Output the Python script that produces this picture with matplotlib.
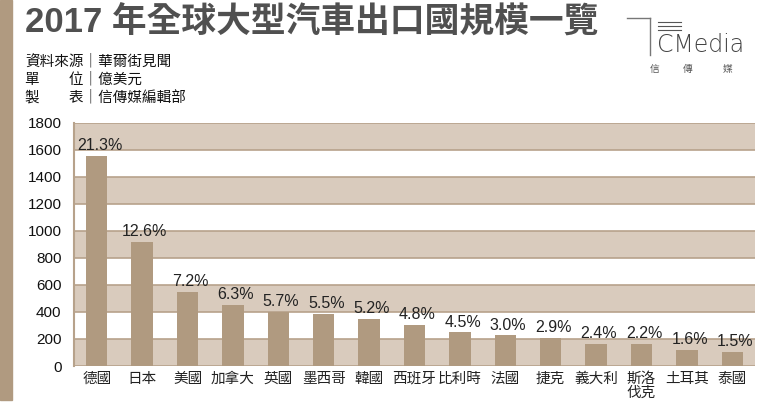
import matplotlib
matplotlib.use("Agg")
import matplotlib.pyplot as plt
from matplotlib.patches import Rectangle

plt.rcParams['font.family'] = ['Liberation Sans', 'Noto Sans CJK TC']

countries = ['德國', '日本', '美國', '加拿大', '英國', '墨西哥', '韓國', '西班牙',
             '比利時', '法國', '捷克', '義大利', '斯洛\n伐克', '土耳其', '泰國']
exports = [1555, 918, 546, 451, 402, 385, 350, 303, 249, 227, 209, 165, 162, 118, 104]
shares = ['21.3%', '12.6%', '7.2%', '6.3%', '5.7%', '5.5%', '5.2%', '4.8%',
          '4.5%', '3.0%', '2.9%', '2.4%', '2.2%', '1.6%', '1.5%']
yticks = [0, 200, 400, 600, 800, 1000, 1200, 1400, 1600, 1800]

BAR = '#b09a80'
BAND = '#d9cbbd'
LINE = '#b7a28b'

W, H = 768, 405
fig = plt.figure(figsize=(W / 100, H / 100), dpi=100)
fig.patch.set_facecolor('white')

# decorative strip on the left
fig.patches.append(Rectangle((0, 5 / H), 12 / W, 1 - 5 / H, transform=fig.transFigure,
                             color=BAR, zorder=0))

ax = fig.add_axes([74 / W, 1 - 366 / H, (755 - 74) / W, (366 - 122.7) / H])
x = range(len(countries))

# alternating bands: 0-200, 400-600, ... 1600-1800
for lo in yticks[:-1:2]:
    ax.axhspan(lo, lo + 200, color=BAND, zorder=0, lw=0)
for y in yticks:
    ax.axhline(y, color=LINE, lw=1.2, zorder=1)

ax.bar(x, exports, width=0.47, color=BAR, zorder=2)
for i, (v, s) in enumerate(zip(exports, shares)):
    ax.annotate(s, (i, v), xytext=(2, 2), textcoords='offset points',
                ha='center', va='bottom', fontsize=11.5, color='#222222', zorder=3)

ax.set_xlim(-0.5, len(countries) - 0.5)
ax.set_ylim(0, 1800)
ax.set_yticks(yticks)
ax.set_xticks(list(x))
ax.set_xticklabels(countries, fontsize=10.5, color='#222222', va='top',
                   linespacing=1.0)
ax.tick_params(axis='both', length=0)
ax.tick_params(axis='y', pad=9, labelsize=11, labelcolor='#111111')
ax.tick_params(axis='x', pad=4)
for side in ['top', 'right', 'bottom']:
    ax.spines[side].set_visible(False)
ax.spines['left'].set_color(LINE)
ax.spines['left'].set_linewidth(1.5)
ax.set_facecolor('white')

# title and notes
fig.text(25 / W, 1 - 23 / H, '2017 年全球大型汽車出口國規模一覽',
         fontsize=25, fontweight='bold', color='#505050', va='center', ha='left')
notes = ['資料來源｜華爾街見聞', '單　　位｜億美元', '製　　表｜信傳媒編輯部']
for k, t in enumerate(notes):
    fig.text(25 / W, 1 - (61 + 18 * k) / H, t, fontsize=10.5, color='#111111',
             va='center', ha='left', family=['Noto Sans CJK TC'])

# logo
fig.add_artist(plt.Line2D([627 / W, 650 / W], [1 - 18 / H, 1 - 18 / H],
                          transform=fig.transFigure, color='#777777', lw=1))
fig.add_artist(plt.Line2D([650 / W, 650 / W], [1 - 18 / H, 1 - 55 / H],
                          transform=fig.transFigure, color='#777777', lw=1))
for yy in [22, 26, 30]:
    fig.add_artist(plt.Line2D([658 / W, 681 / W], [1 - yy / H, 1 - yy / H],
                              transform=fig.transFigure, color='#555555', lw=0.8))
fig.text(657 / W, 1 - 45 / H, 'CMedia', fontsize=17, color='#444444',
         va='center', ha='left', family=['DejaVu Sans'], fontweight='light')
for xx, ch in zip([655, 688, 728], ['信', '傳', '媒']):
    fig.text(xx / W, 1 - 69 / H, ch, fontsize=7, color='#555555',
             va='center', ha='center', family=['Noto Sans CJK TC'])

fig.savefig('out.png', dpi=100)
